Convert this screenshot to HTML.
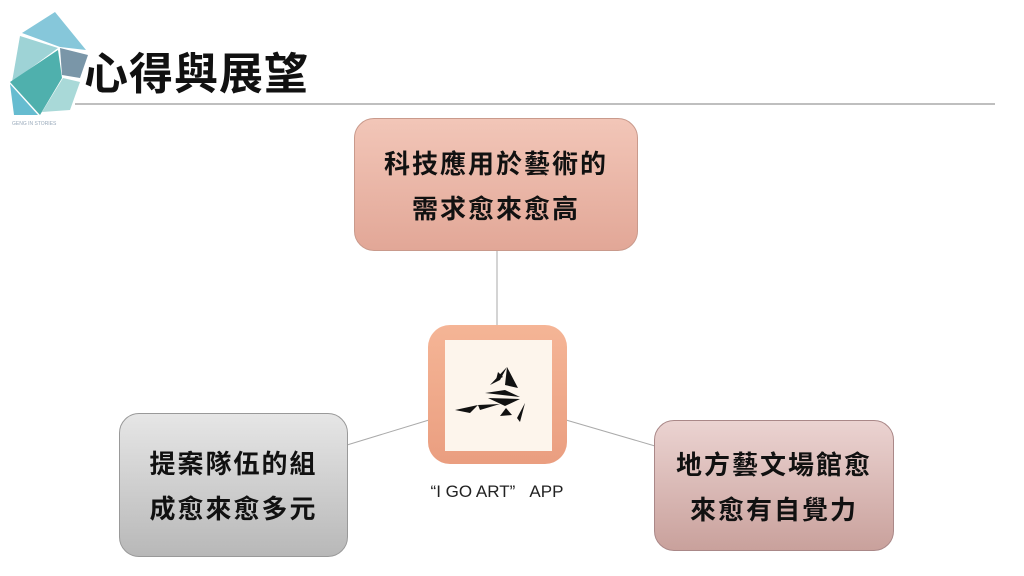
<!DOCTYPE html>
<html><head><meta charset="utf-8"><style>
body{margin:0;width:1024px;height:576px;background:#fff;position:relative;overflow:hidden;font-family:"Liberation Sans","Noto Sans CJK TC",sans-serif}
.b{position:absolute;box-sizing:border-box;border-radius:20px;display:flex;flex-direction:column;align-items:center;justify-content:center;text-align:center;font-family:"Noto Sans CJK TC",sans-serif;font-weight:bold;font-size:26px;letter-spacing:2px;line-height:45px;color:#111}
</style></head><body>
<svg width="1024" height="576" style="position:absolute;left:0;top:0">
<polygon points="22,33 55,12 86,50 60,47" fill="#86c7da"/>
<polygon points="20,36 58,48 12,82" fill="#9ed3d6"/>
<polygon points="60,48 88,55 80,78 62,75" fill="#7a96a8"/>
<polygon points="58,50 62,78 40,115 10,82" fill="#4fb0ad"/>
<polygon points="10,84 38,115 14,115" fill="#66bcd0"/>
<polygon points="63,78 80,82 70,110 42,112" fill="#a9d9d8"/>
<text x="12" y="125" font-size="5" fill="#9ab" font-family="Liberation Sans">GENG IN STORIES</text>
<line x1="75" y1="104" x2="995" y2="104" stroke="#999" stroke-width="1.2"/>
<line x1="497" y1="250" x2="497" y2="326" stroke="#aaa"/>
<line x1="347" y1="445" x2="429" y2="420" stroke="#aaa"/>
<line x1="566" y1="420" x2="655" y2="446" stroke="#aaa"/>
</svg>
<div style="position:absolute;left:84px;top:40px;font-family:'Noto Sans CJK TC',sans-serif;font-size:44px;line-height:60px;color:#111;font-weight:bold;letter-spacing:1px">心得與展望</div>
<div class="b" style="left:354px;top:118px;width:284px;height:133px;background:linear-gradient(#f2c6b8,#e2a797);border:1px solid #c99a8c">科技應用於藝術的<br>需求愈來愈高</div>
<div class="b" style="left:119px;top:413px;width:229px;height:144px;background:linear-gradient(#e6e6e6,#b8b8b8);border:1px solid #999">提案隊伍的組<br>成愈來愈多元</div>
<div class="b" style="left:654px;top:420px;width:240px;height:131px;background:linear-gradient(#ebd3d1,#c9a19c);border:1px solid #a88">地方藝文場館愈<br>來愈有自覺力</div>
<div style="position:absolute;left:428px;top:325px;width:139px;height:139px;border-radius:22px;background:linear-gradient(#f5b596,#ea9e80)"></div>
<div style="position:absolute;left:445px;top:340px;width:107px;height:111px;background:#fdf5ec"></div>
<svg width="1024" height="576" style="position:absolute;left:0;top:0">
<g fill="#111">
<polygon points="507,367 490,385 500,380"/>
<polygon points="507,367 505,385 518,388"/>
<polygon points="505,390 485,393 520,397"/>
<polygon points="488,398 520,399 505,406"/>
<polygon points="455,410 478,405 470,413"/>
<polygon points="478,405 500,404 480,410"/>
<polygon points="506,408 512,415 500,416"/>
<polygon points="525,403 520,422 517,418"/>
<polygon points="498,372 503,377 496,380"/>
</g></svg>
<div style="position:absolute;left:412px;top:482px;width:170px;text-align:center;font-size:17px;color:#222">“I GO ART”&nbsp;&nbsp;&nbsp;APP</div>
</body></html>
